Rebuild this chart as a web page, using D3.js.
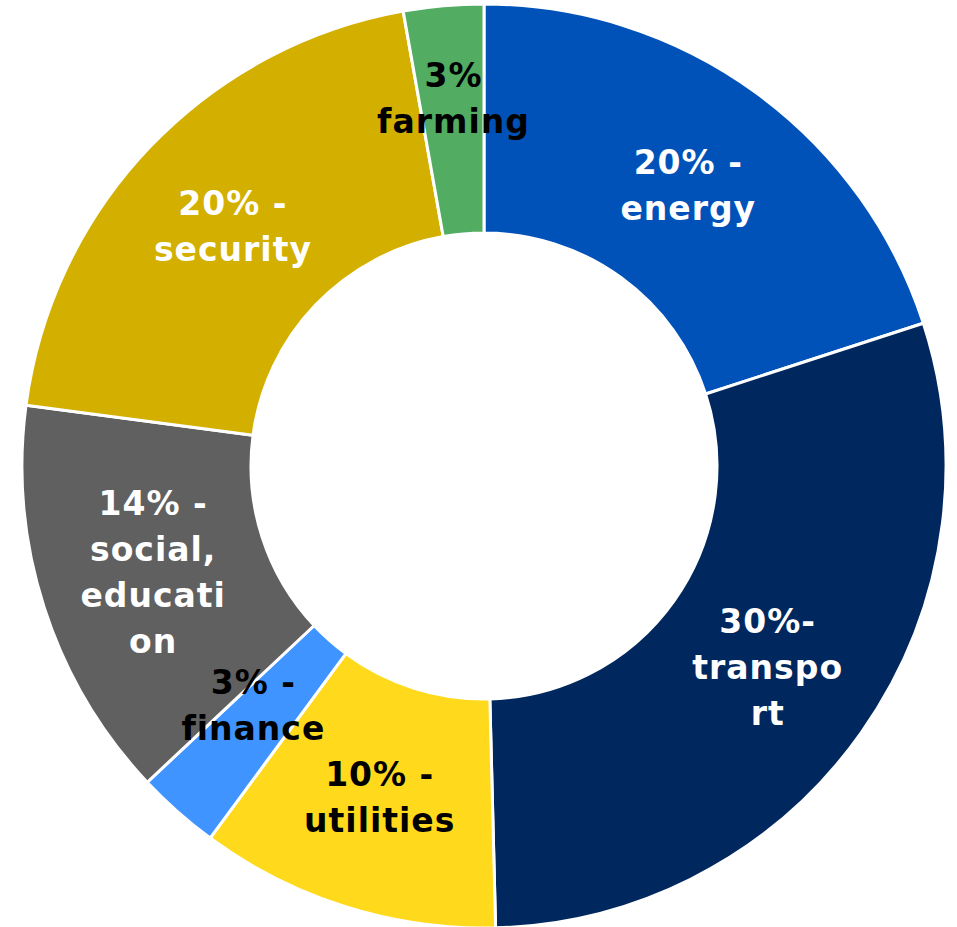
<!DOCTYPE html>
<html>
<head>
<meta charset="utf-8">
<script src="https://cdn.jsdelivr.net/npm/d3@7"></script>
<style>
  body { margin: 0; background: #fff; }
  svg { display: block; }
  .lbl { font-family: "DejaVu Sans", sans-serif; font-weight: bold; font-size: 33px; letter-spacing: 1px; }
</style>
</head>
<body>
<script>
// sector data (slice order clockwise from 12 o'clock)
var sectors = ["energy", "transport", "utilities", "finance", "social", "security", "farming"];
var shares = [20, 29.6, 10.5, 2.9, 14.1, 20.1, 2.8];
var labelLines = [
    ["20% -", "energy"],
    ["30%-", "transpo", "rt"],
    ["10% -", "utilities"],
    ["3% -", "finance"],
    ["14% -", "social,", "educati", "on"],
    ["20% -", "security"],
    ["3%", "farming"]
];
var colors = ["#0052b9", "#00285e", "#ffd91c", "#3f94ff", "#606060", "#d3b000", "#52ad63"];
var textColors = ["#fff", "#fff", "#000", "#000", "#fff", "#fff", "#000"];
// small slices had their labels nudged upward
var labelNudge = [0, 0, 0, -21, 0, 0, -22];

window.onload = drawChart();

function drawChart(){
    var width = 957,
        height = 927,
        cx = 484,
        cy = 466,
        outer = 462,
        inner = 233,
        lineH = 46;

    var svg = d3.select("body")
        .append("svg")
        .attr("width", width)
        .attr("height", height);

    var g = svg.append("g")
        .attr("transform", "translate(" + cx + "," + cy + ")");

    var rows = sectors.map(function(s, i){ return {name: s, value: shares[i], i: i}; });

    var pie = d3.pie()
        .sort(null)
        .value(function(d){ return d.value; });

    var arc = d3.arc()
        .innerRadius(inner)
        .outerRadius(outer);

    var arcs = pie(rows);

    g.selectAll(".slice")
        .data(arcs)
        .enter()
        .append("path")
        .attr("class", "slice")
        .attr("d", arc)
        .attr("fill", function(d){ return colors[d.data.i]; })
        .attr("stroke", "#fff")
        .attr("stroke-width", 3);

    //labels at the slice centroid, lines stacked around it
    var labels = g.selectAll(".lbl")
        .data(arcs)
        .enter()
        .append("text")
        .attr("class", "lbl")
        .attr("text-anchor", "middle")
        .attr("fill", function(d){ return textColors[d.data.i]; })
        .attr("transform", function(d){
            var c = arc.centroid(d);
            return "translate(" + c[0] + "," + (c[1] + labelNudge[d.data.i]) + ")";
        });

    labels.each(function(d){
        var lines = labelLines[d.data.i];
        var t = d3.select(this);
        lines.forEach(function(line, k){
            t.append("tspan")
                .attr("x", 0)
                .attr("y", (k - (lines.length - 1) / 2) * lineH)
                .attr("dy", "0.36em")
                .text(line);
        });
    });
}
</script>
</body>
</html>
